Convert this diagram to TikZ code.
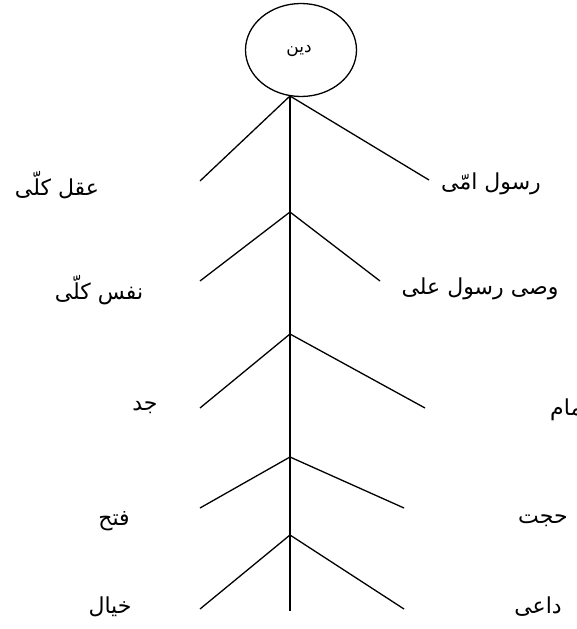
\documentclass[tikz,border=0pt]{standalone}
\usepackage{fontspec}
\usetikzlibrary{shapes.geometric}
\newfontfamily\arabicfont[Script=Arabic]{DejaVu Sans}
\TeXXeTstate=1
\begin{document}
\begin{tikzpicture}[x=1pt,y=-1pt,
  stroke/.style={line width=1.3pt, black},
  lbl/.style={font=\arabicfont\fontsize{22}{26}\selectfont, inner sep=0pt}]
\useasboundingbox (0,0) rectangle (577,629);
\fill[white] (0,0) rectangle (577,629);
\node[ellipse, draw, stroke, minimum width=111pt, minimum height=93pt, inner sep=0pt] (din) at (301,50) {};
\node[font=\arabicfont\fontsize{17}{20}\selectfont, inner sep=0pt] (dintext) at (299,51) {\beginR دين\endR};
% spine junctions
\coordinate (j1) at (290,96);
\coordinate (j2) at (290,212);
\coordinate (j3) at (290,334);
\coordinate (j4) at (290,457);
\coordinate (j5) at (290,535);
\coordinate (bot) at (290,611);
% branch ends
\coordinate (l1) at (200,181); \coordinate (r1) at (429,180);
\coordinate (l2) at (200,281); \coordinate (r2) at (380,281);
\coordinate (l3) at (200,408); \coordinate (r3) at (425,408);
\coordinate (l4) at (200,508); \coordinate (r4) at (404,508);
\coordinate (l5) at (200,609); \coordinate (r5) at (404,609);
\draw[stroke] (j1) -- (bot);
\foreach \i in {1,...,5} {
  \draw[stroke] (l\i) -- (j\i) -- (r\i);
}
% labels
\node[lbl] (aql) at (57,185) {\beginR عقل کلّی\endR};
\node[lbl] (rasul) at (491,184) {\beginR رسول امّی\endR};
\node[lbl] (nafs) at (99,290) {\beginR نفس کلّی\endR};
\node[lbl] (wasi) at (480,289) {\beginR وصی رسول علی\endR};
\node[lbl] (jad) at (145,408) {\beginR جد\endR};
\node[lbl, anchor=west] (imam) at (550,410) {\beginR امام\endR};
\node[lbl] (fath) at (114,521) {\beginR فتح\endR};
\node[lbl, anchor=west] (hujjat) at (518,521) {\beginR حجت\endR};
\node[lbl] (khayal) at (110,607) {\beginR خیال\endR};
\node[lbl] (dai) at (538,607) {\beginR داعی\endR};
\end{tikzpicture}
\end{document}
